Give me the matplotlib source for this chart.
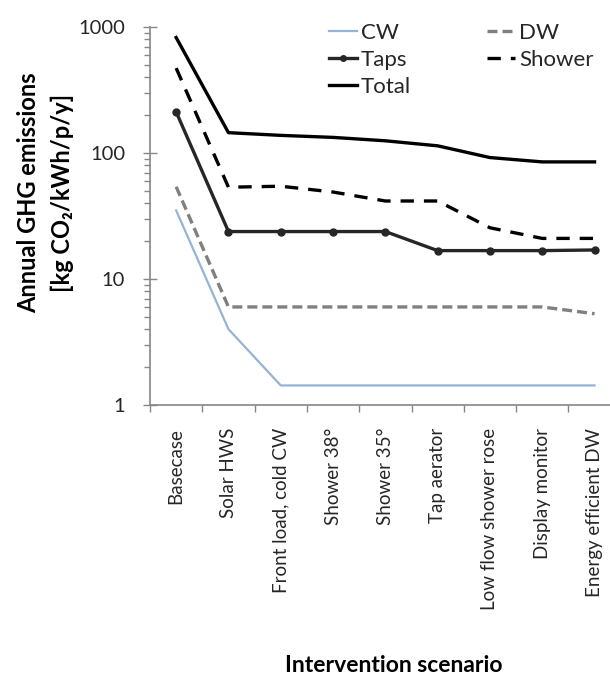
import numpy as np
import matplotlib.pyplot as plt

plt.rcParams["font.family"] = ["Lato", "DejaVu Sans"]

scenarios = ["Basecase", "Solar HWS", "Front load, cold CW", "Shower 38\u00b0",
             "Shower 35\u00b0", "Tap aerator", "Low flow shower rose",
             "Display monitor", "Energy efficient DW"]
cw = [35, 4.0, 1.43, 1.43, 1.43, 1.43, 1.43, 1.43, 1.43]
dw = [54, 6.0, 6.0, 6.0, 6.0, 6.0, 6.0, 6.0, 5.3]
taps = [212, 23.8, 23.8, 23.8, 23.8, 16.8, 16.8, 16.8, 17.0]
shower = [472, 53.5, 54.5, 49, 41.6, 41.6, 25.5, 21, 21]
total = [825, 145, 138, 133, 125, 114, 92, 85, 85]

fig = plt.figure(figsize=(6.1, 6.81), dpi=100)
ax = fig.add_axes([150 / 610, 276 / 681, 9 * 52.3 / 610, 378 / 681])

x = np.arange(len(scenarios))
l_cw, = ax.plot(x, cw, color="#95B3D7", lw=1.6, label="CW")
l_dw, = ax.plot(x, dw, color="#808080", lw=2.4, ls=(0, (3, 1.5)), label="DW")
l_taps, = ax.plot(x, taps, color="#262626", lw=2.4, marker="o", ms=5, label="Taps")
l_sh, = ax.plot(x, shower, color="black", lw=2.4, ls=(0, (4, 3)), label="Shower")
l_tot, = ax.plot(x, total, color="black", lw=2.4, label="Total")

ax.set_yscale("log")
ax.set_ylim(1, 1000)
ax.set_xlim(-0.5, 8.5)

for s in ["top", "right"]:
    ax.spines[s].set_visible(False)
for s in ["left", "bottom"]:
    ax.spines[s].set_color("#868686")
    ax.spines[s].set_linewidth(1.2)

ax.set_yticks([1, 10, 100, 1000])
ax.set_yticklabels(["1", "10", "100", "1000"])
ax.tick_params(axis="y", which="major", direction="inout", length=10, width=1,
               color="#868686", labelsize=14.5, pad=13, labelcolor="#262626")
ax.tick_params(axis="y", which="minor", direction="out", length=4, width=1,
               color="#868686", labelleft=False)

ax.set_xticks(x)
ax.set_xticklabels(scenarios, rotation=90, va="top", ha="center")
ax.set_xticks(np.arange(10) - 0.5, minor=True)
ax.tick_params(axis="x", which="major", length=0, labelsize=13.5, pad=16.5,
               labelcolor="#262626")
ax.tick_params(axis="x", which="minor", direction="out", length=5, width=1,
               color="#868686")

fig.text(29 / 610, 1 - 193 / 681, "Annual GHG emissions", rotation=90,
         ha="center", va="center", fontsize=17, fontweight="bold")
fig.text(62 / 610, 1 - 193 / 681, "[kg CO\u2082/kWh/p/y]", rotation=90,
         ha="center", va="center", fontsize=17, fontweight="bold")
fig.text(394 / 610, 1 - 665 / 681, "Intervention scenario",
         ha="center", va="center", fontsize=16.5, fontweight="bold")

leg_opts = dict(loc="upper left", frameon=False, fontsize=16, handlelength=1.26,
                handletextpad=0.18, labelspacing=0.32, borderpad=0,
                borderaxespad=0, markerscale=0.8)
leg1 = fig.legend(handles=[l_cw, l_taps, l_tot],
                  bbox_to_anchor=(329 / 610, 1 - 23 / 681), **leg_opts)
leg2 = fig.legend(handles=[l_dw, l_sh],
                  bbox_to_anchor=(487 / 610, 1 - 23 / 681), **leg_opts)
for leg in (leg1, leg2):
    for t in leg.get_texts():
        t.set_color("#262626")

fig.savefig("out.png", dpi=100)
